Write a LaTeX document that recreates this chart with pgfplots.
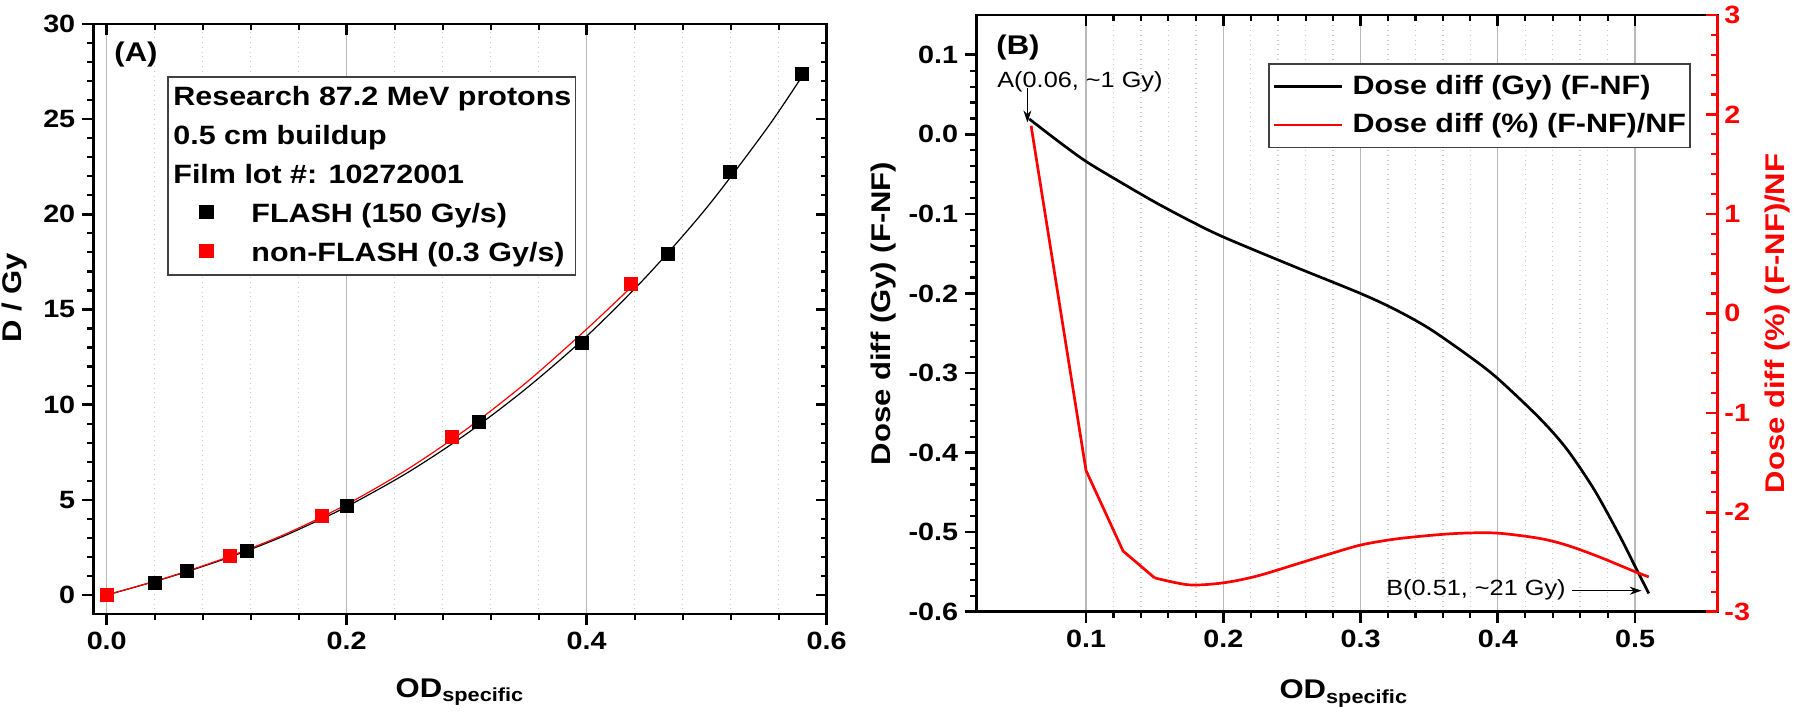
\documentclass[border=0pt]{standalone}
\usepackage{fontspec}
\setmainfont{Liberation Sans}[FakeStretch=1.15]
\usepackage{pgfplots}
\pgfplotsset{compat=1.18}
\usetikzlibrary{arrows.meta}
\definecolor{majgrid}{RGB}{185,185,185}
\definecolor{mingrid}{RGB}{200,200,200}

\pgfplotstableread{
x y
0.0403 0.66
0.0667 1.24
0.1167 2.33
0.1999 4.66
0.3104 9.08
0.3957 13.23
0.4678 17.94
0.5194 22.21
0.5793 27.37
}\flashdata
\pgfplotstableread{
x y
0 0
0.1028 2.07
0.179 4.16
0.288 8.28
0.437 16.33
}\nonflashdata

\pgfplotsset{
  base/.style={
    scale only axis,
    axis line style={line width=1.3pt, black},
    major tick style={line width=1.3pt, black},
    minor tick style={line width=1.1pt, black},
    major tick length=5.5pt,
    minor tick length=3pt,
    tick label style={font=\fontsize{12.5}{14}\selectfont\bfseries},
    label style={font=\fontsize{13.5}{16}\selectfont\bfseries},
  },
}

\begin{document}
\begin{tikzpicture}
\useasboundingbox (0,0) rectangle (900pt,356pt);

%================ Panel A =================
\begin{axis}[base,
  at={(46.65pt,49pt)}, anchor=south west,
  width=366.7pt, height=295pt,
  xmin=-0.0112, xmax=0.6, ymin=-1, ymax=30,
  xtick={0,0.2,0.4,0.6}, xticklabels={0.0,0.2,0.4,0.6},
  ytick={0,5,10,15,20,25,30}, yticklabels={0,5,10,15,20,25,30},
  minor x tick num=4, minor y tick num=4,
  xtick pos=left, ytick pos=left, tick align=outside,
  xmajorgrids, xminorgrids,
  major x grid style={majgrid, line width=0.6pt},
  minor x grid style={mingrid, dotted, line width=0.7pt},
  xlabel={OD\textsubscript{specific}},
  ylabel={D / Gy},
  xlabel style={at={(rel axis cs:0.5,-0.1407)}, anchor=base},
  ylabel style={at={(rel axis cs:-0.1068,0.5356)}, anchor=center, rotate=0},
  legend style={at={(rel axis cs:0.1005,0.912)}, anchor=north west,
    font=\fontsize{13.25}{15}\selectfont\bfseries,
    draw=black!75, line width=0.8pt, fill=white,
    inner xsep=2pt, inner ysep=1.5pt, row sep=1.5pt,
    nodes={inner sep=0pt, text height=13pt, text depth=5pt}},
  legend cell align=left,
  legend image code/.code={\path (0pt,0pt); \draw[#1, overlay] plot coordinates {(17pt,1.3pt)};},
]
\addlegendimage{empty legend}\addlegendentry{Research 87.2 MeV protons}
\addlegendimage{empty legend}\addlegendentry{0.5 cm buildup}
\addlegendimage{empty legend}\addlegendentry{Film lot \#: 10272001}

\addplot[black, line width=0.6pt, smooth, forget plot] coordinates {
(0,0) (0.02,0.35) (0.04,0.71) (0.06,1.09) (0.08,1.5) (0.1,1.93) (0.125,2.52)
(0.15,3.16) (0.175,3.88) (0.2,4.64) (0.25,6.4) (0.3,8.47) (0.35,10.87)
(0.4,13.6) (0.45,16.75) (0.5,20.35) (0.55,24.5) (0.58,27.3)};
\addplot[red, line width=0.6pt, smooth, forget plot] coordinates {
(0,0) (0.05,0.91) (0.1,1.97) (0.15,3.23) (0.2,4.76) (0.25,6.58) (0.3,8.72)
(0.35,11.18) (0.4,13.97) (0.44,16.35)};

\addplot[only marks, mark=square*, mark size=3.25pt, black] table[x=x,y=y] {\flashdata};
\addlegendentry{\hspace{39pt}FLASH (150 Gy/s)}
\addplot[only marks, mark=square*, mark size=3.25pt, red, mark options={fill=red, draw=red}] table[x=x,y=y] {\nonflashdata};
\addlegendentry{\hspace{39pt}non-FLASH (0.3 Gy/s)}

\node[font=\fontsize{13.5}{16}\selectfont\bfseries] at (rel axis cs:0.0582,0.949) {(A)};
\end{axis}
% mirror ticks top/right inward
\begin{axis}[base,
  at={(46.65pt,49pt)}, anchor=south west,
  width=366.7pt, height=295pt,
  xmin=-0.0112, xmax=0.6, ymin=-1, ymax=30,
  xtick={0,0.2,0.4,0.6}, ytick={0,5,10,15,20,25,30},
  xticklabels={}, yticklabels={},
  minor x tick num=4, minor y tick num=4,
  xtick pos=right, ytick pos=right, tick align=inside,
]
\end{axis}

%================ Panel B =================
\begin{axis}[base,
  at={(488.1pt,50.15pt)}, anchor=south west,
  width=370.6pt, height=298.35pt,
  xmin=0.02, xmax=0.56, ymin=-0.6, ymax=0.15,
  xtick={0.1,0.2,0.3,0.4,0.5}, xticklabels={0.1,0.2,0.3,0.4,0.5},
  ytick={-0.6,-0.5,-0.4,-0.3,-0.2,-0.1,0,0.1},
  yticklabels={-0.6,-0.5,-0.4,-0.3,-0.2,-0.1,0.0,0.1},
  minor x tick num=4, minor y tick num=4,
  xtick pos=left, ytick pos=left, tick align=outside,
  xmajorgrids, xminorgrids,
  major x grid style={majgrid, line width=0.6pt},
  minor x grid style={mingrid, dotted, line width=0.7pt},
  xlabel={OD\textsubscript{specific}},
  ylabel={Dose diff (Gy) (F-NF)},
  xlabel style={at={(rel axis cs:0.496,-0.1463)}, anchor=base},
  ylabel style={at={(rel axis cs:-0.1244,0.4998)}, anchor=center, rotate=0},
]
\addplot[black, line width=1.35pt, smooth] coordinates {
(0.0586,0.0194) (0.08,-0.009) (0.1,-0.034) (0.125,-0.06) (0.15,-0.085)
(0.175,-0.108) (0.2,-0.129) (0.25,-0.165) (0.3,-0.2) (0.325,-0.22)
(0.35,-0.244) (0.38,-0.28) (0.4,-0.307) (0.43,-0.356) (0.45,-0.395)
(0.47,-0.446) (0.488,-0.502) (0.5,-0.543) (0.51,-0.577)};
\node[font=\fontsize{13.5}{16}\selectfont\bfseries] at (rel axis cs:0.0564,0.9455) {(B)};
\node[font=\fontsize{11}{13}\selectfont] at (rel axis cs:0.140,0.8886) {A(0.06, \textasciitilde 1 Gy)};
\draw[-{Stealth[length=6pt,width=4pt]}, line width=0.5pt] (axis cs:0.0573,0.058) -- (axis cs:0.0573,0.015);
\node[font=\fontsize{11}{13}\selectfont] at (rel axis cs:0.6743,0.0364) {B(0.51, \textasciitilde 21 Gy)};
\draw[-{Stealth[length=6pt,width=4pt]}, line width=0.5pt] (axis cs:0.454,-0.5736) -- (axis cs:0.5048,-0.5736);
\end{axis}
% top ticks inward
\begin{axis}[base,
  at={(488.1pt,50.15pt)}, anchor=south west,
  width=370.6pt, height=298.35pt,
  xmin=0.02, xmax=0.56, ymin=-0.6, ymax=0.15,
  xtick={0.1,0.2,0.3,0.4,0.5}, xticklabels={},
  ytick=\empty,
  minor x tick num=4,
  xtick pos=right, tick align=inside,
]
\end{axis}
% red right axis
\begin{axis}[base,
  at={(488.1pt,50.15pt)}, anchor=south west,
  width=370.6pt, height=298.35pt,
  xmin=0.02, xmax=0.56, ymin=-3, ymax=3,
  axis x line=none,
  axis y line*=right,
  y axis line style={red, line width=1.3pt, -},
  ytick={-3,-2,-1,0,1,2,3}, yticklabels={-3,-2,-1,0,1,2,3},
  minor y tick num=4,
  ytick pos=right, tick align=inside,
  major tick style={red, line width=1.3pt},
  minor tick style={red, line width=1.1pt},
  yticklabel style={red},
  ylabel={Dose diff (\%) (F-NF)/NF},
  ylabel style={red, at={(rel axis cs:1.081,0.483)}, anchor=center, rotate=0},
  legend style={at={(rel axis cs:0.3937,0.919)}, anchor=north west,
    font=\fontsize{13.25}{15}\selectfont\bfseries,
    draw=black!75, line width=0.8pt, fill=white,
    inner xsep=2pt, inner ysep=2pt, row sep=0.75pt,
    nodes={inner sep=0pt, text height=13pt, text depth=5.5pt}},
  legend cell align=left,
  legend image code/.code={\draw[#1] (0pt,0pt) -- (34pt,0pt); \path (38.5pt,0pt);},
]
\addlegendimage{black, line width=1.35pt}
\addlegendentry{Dose diff (Gy) (F-NF)}
\addplot[red, line width=1.35pt, line join=round] coordinates {
(0.06,1.886) (0.1,-1.58) (0.127,-2.39) (0.15,-2.66)};
\addlegendentry{Dose diff (\%) (F-NF)/NF}
\addplot[red, line width=1.35pt, smooth, forget plot] coordinates {
(0.15,-2.66) (0.175,-2.73) (0.2,-2.71)
(0.225,-2.64) (0.256,-2.51) (0.275,-2.43) (0.3,-2.33) (0.325,-2.27)
(0.353,-2.23) (0.375,-2.21) (0.4,-2.21) (0.43,-2.262) (0.45,-2.33)
(0.4735,-2.447) (0.5,-2.598) (0.51,-2.65)};
\end{axis}
\end{tikzpicture}
\end{document}
